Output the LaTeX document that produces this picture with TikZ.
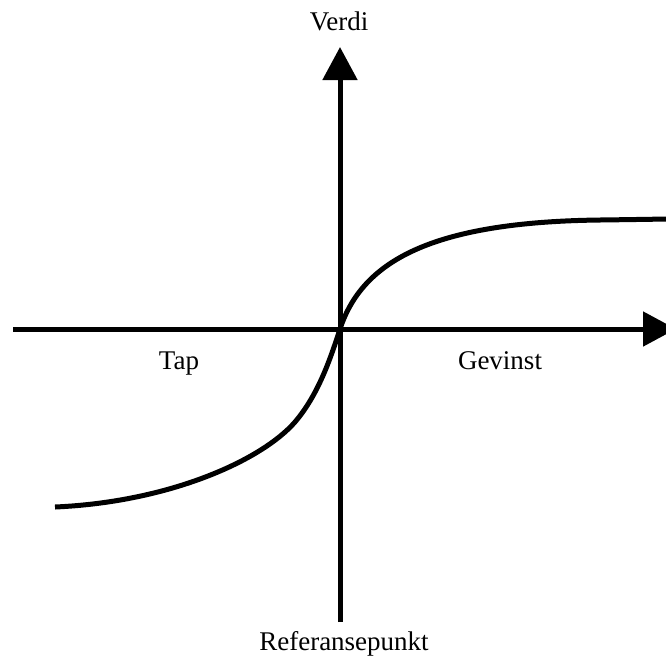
\documentclass[tikz,border=0pt]{standalone}
\usepackage{fontspec}
\setmainfont{Liberation Serif}
\usetikzlibrary{arrows.meta}
\begin{document}
\begin{tikzpicture}[x=1pt,y=-1pt,
  axis/.style={line width=5pt,-{Triangle[length=33pt,width=34pt]}},
  curvestyle/.style={line width=5pt},
  lbl/.style={font=\fontsize{27}{30}\selectfont,anchor=base,inner sep=0pt}]
\useasboundingbox (0,0) rectangle (666,659);
\coordinate (xs) at (13,329);
\coordinate (xe) at (676,329);
\coordinate (ys) at (340,622);
\coordinate (ye) at (340,47);
\coordinate (o) at (340,329);
\coordinate (cl) at (55,507);
\coordinate (cm) at (295,422);
\coordinate (cr) at (600,220);
\coordinate (ce) at (668,219);
\draw[axis] (xs) -- (xe);
\draw[axis] (ys) -- (ye);
\draw[curvestyle] (cl) .. controls (170,502) and (262,460) .. (cm)
  .. controls (318,395) and (330,360) .. (o)
  .. controls (362,262) and (430,222) .. (cr)
  .. controls (630,219.6) .. (ce);
\node[lbl] (verdi) at (339,30) {Verdi};
\node[lbl] (tap) at (179,369) {Tap};
\node[lbl] (gev) at (500,369) {Gevinst};
\node[lbl] (ref) at (344,650) {Referansepunkt};
\end{tikzpicture}
\end{document}
